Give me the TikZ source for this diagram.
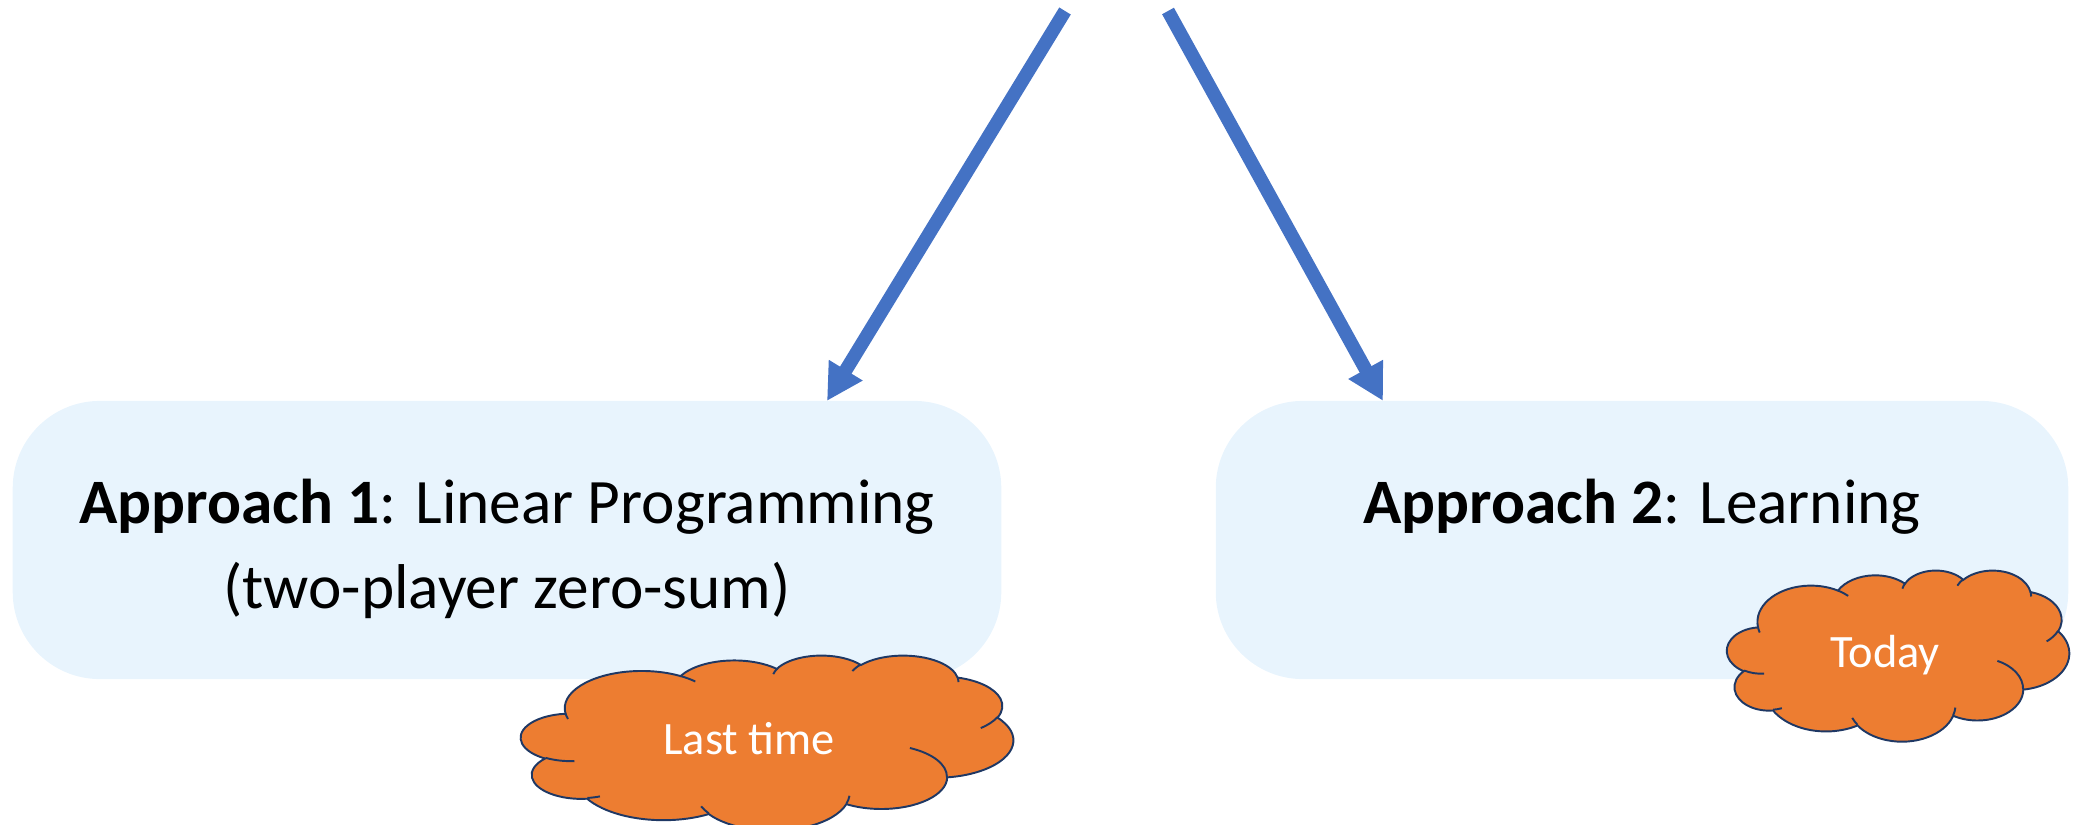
\documentclass[tikz,border=0pt]{standalone}
\usepackage{fontspec}
\setmainfont{Carlito}
\usetikzlibrary{arrows.meta,calc}

\definecolor{boxfill}{HTML}{E8F4FD}
\definecolor{arrowblue}{HTML}{4472C4}
\definecolor{cloudfill}{HTML}{ED7D31}
\definecolor{cloudline}{HTML}{1F3864}

% elliptical arc given by radii, visual start angle and sweep
\newcommand\carc[4]{arc[x radius=#1, y radius=#2, start angle={vang(#3,#1,#2)}, end angle={vang(#3+#4,#1,#2)}]}

% cloud outline in a 432 x 432 frame
\newcommand\cloudoutline{(39,143.70)
  \carc{67.53}{91.90}{-190.48748}{123.78053}
  \carc{53.33}{72.67}{-144.10238}{89.94523}
  \carc{43.65}{59.45}{-145.80792}{99.72302}
  \carc{48.57}{65.95}{-130.98607}{117.24173}
  \carc{53.33}{72.73}{-78.70888}{109.02692}
  \carc{67.75}{92.20}{-46.26725}{130.269}
  \carc{57.85}{78.67}{0.62502}{114.03333}
  \carc{67.52}{92.15}{22.4516}{115.17255}
  \carc{77.20}{105.43}{66.24263}{75.71102}
  \carc{43.60}{59.18}{-274.94208}{146.73557}
  \carc{43.45}{59.45}{-246.8285}{152.51885}
  -- cycle}

% the short inner fold lines of the cloud
\newcommand\cloudfolds{
  (46.93,261.77) \carc{43.45}{59.45}{86.742}{26.4295}
  (69.28,348.99) \carc{43.60}{59.18}{73.61047}{11.44747}
  (164.78,390.90) \carc{67.52}{92.15}{137.62415}{14.0811}
  (288.27,347.51) \carc{67.52}{92.15}{6.45327}{15.99835}
  (341.29,229.54) \carc{57.85}{78.67}{-70.29235}{70.91737}
  (417.98,153.54) \carc{53.33}{72.73}{30.31803}{27.7515}
  (383.24,54.26) \carc{48.57}{65.95}{-13.74433}{14.85882}
  (290.78,39.52) \carc{48.57}{65.95}{-149.18145}{18.19537}
  (221.41,47.20) \carc{43.65}{59.45}{-163.49433}{17.68635}
  (140.00,51.92) \carc{67.53}{91.90}{-66.70695}{12.31935}
  (41.27,157.89) \carc{67.53}{91.90}{157.65435}{11.85817}}

% cloud with top-left corner (#1,#2), width #3, height #4
\newcommand\officecloud[4]{%
  \pgfmathsetmacro\cloudxu{#3/4320}%
  \pgfmathsetmacro\cloudyu{-#4/4320}%
  \begin{scope}[shift={(#1,#2)}, x=\cloudxu mm, y=\cloudyu mm]
    \path[cloudbody] \cloudoutline;
    \path[cloudfold] \cloudfolds;
  \end{scope}}

\tikzset{
  panel/.style={rectangle, fill=boxfill, draw=none, rounded corners=0.87cm,
    inner sep=0pt, outer sep=0pt},
  paneltext/.style={anchor=base, inner sep=0pt, font=\fontsize{18}{22}\selectfont},
  cloudtext/.style={anchor=base, inner sep=0pt, text=white,
    font=\fontsize{13.2}{16}\selectfont},
  cloudbody/.style={fill=cloudfill, draw=cloudline, line width=0.55pt},
  cloudfold/.style={draw=cloudline, line width=0.55pt},
  flow/.style={draw=arrowblue, line width=0.135cm,
    -{Triangle[length=0.36cm, width=0.37cm]}}
}

\begin{document}
\begin{tikzpicture}[x=0.01cm, y=-0.01cm,
  declare function={vang(\qa,\qx,\qy)=\qa+atan2((\qx-\qy)*sin(\qa)*cos(\qa),\qy*cos(\qa)*cos(\qa)+\qx*sin(\qa)*sin(\qa));}]
  \useasboundingbox (0,0) rectangle (2077,825);

  % the two approach panels
  \node[panel, minimum width=9.88cm, minimum height=2.78cm] (box1) at (507,540) {};
  \node[panel, minimum width=8.52cm, minimum height=2.78cm] (box2) at (1642,540) {};

  \node[paneltext] (t1a) at (507,523) {\textbf{Approach 1}: Linear Programming};
  \node[paneltext] (t1b) at (507,608) {(two-player zero-sum)};
  \node[paneltext] (t2) at (1642,523) {\textbf{Approach 2}: Learning};

  % arrows coming down from above
  \coordinate (s1) at (1065,11);
  \coordinate (s2) at (1168,11);
  \draw[flow] (s1) -- ($(box1.north)+(320,0)$);
  \draw[flow] (s2) -- ($(box2.north)+(-259,0)$);

  % clouds
  \officecloud{521}{655}{492}{175}
  \node[cloudtext] (c1) at (749,754) {Last time};
  \officecloud{1727}{570}{342}{171}
  \node[cloudtext] (c2) at (1885,667) {Today};
\end{tikzpicture}
\end{document}
